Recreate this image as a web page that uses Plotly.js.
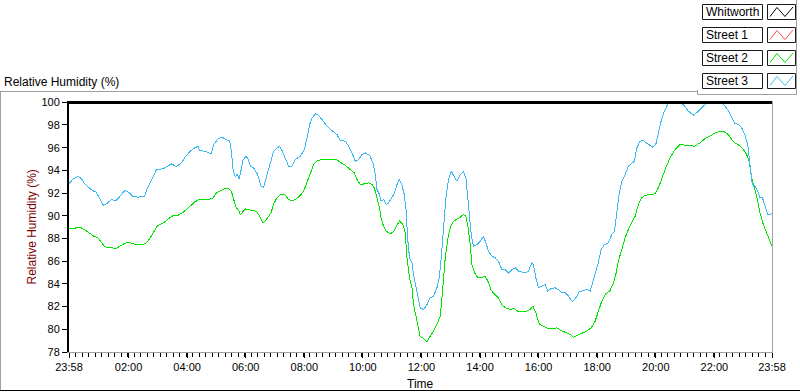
<!DOCTYPE html>
<html>
<head>
<meta charset="utf-8">
<script src="https://cdn.plot.ly/plotly-3.0.1.min.js"></script>
<style>
  html, body { margin: 0; padding: 0; background: #ffffff; }
  #chart { width: 800px; height: 392px; }
  .js-line { shape-rendering: crispEdges; }
</style>
</head>
<body>
<div id="chart"></div>
<script>
// ---- Data (hours since midnight; -0.033 = 23:58 of the previous day) ----
const seriesNames = ["Whitworth", "Street 1", "Street 2", "Street 3"];
const seriesColors = ["#000000", "#ff5050", "#00e400", "#3cb8f4"];

const whitworthTime = [-0.033, 23.967];
const whitworthRH = [100, 100];

const street1Time = [];
const street1RH = [];

const street2Time = [-0.033,0.110,0.280,0.393,0.540,0.676,0.813,0.963,1.075,1.188,1.338,1.474,1.587,1.700,1.836,1.986,2.133,2.269,2.440,2.587,2.703,2.839,2.976,3.122,3.269,3.405,3.542,3.692,3.839,3.975,4.112,4.258,4.408,4.565,4.715,4.862,4.998,5.135,5.282,5.432,5.510,5.589,5.681,5.773,5.817,5.909,5.998,6.216,6.363,6.476,6.592,6.728,6.865,6.953,7.069,7.182,7.328,7.465,7.581,7.694,7.840,7.977,8.093,8.205,8.318,8.454,8.604,8.775,8.946,9.092,9.229,9.399,9.570,9.706,9.798,9.911,10.048,10.194,10.310,10.389,10.481,10.569,10.617,10.685,10.798,10.934,11.047,11.139,11.252,11.368,11.446,11.504,11.593,11.675,11.729,11.821,11.900,11.958,12.071,12.187,12.299,12.412,12.528,12.640,12.719,12.811,12.903,12.981,13.094,13.210,13.323,13.435,13.517,13.585,13.664,13.722,13.810,13.926,14.039,14.175,14.267,14.380,14.517,14.629,14.745,14.882,15.028,15.175,15.311,15.448,15.598,15.711,15.803,15.905,16.017,16.164,16.314,16.471,16.621,16.768,16.929,17.075,17.188,17.338,17.474,17.645,17.792,17.928,18.041,18.157,18.293,18.440,18.552,18.634,18.723,18.839,18.952,19.064,19.180,19.293,19.405,19.521,19.634,19.805,19.975,20.088,20.204,20.341,20.487,20.658,20.828,20.999,21.169,21.340,21.510,21.681,21.851,22.022,22.192,22.339,22.475,22.592,22.704,22.841,22.987,23.103,23.182,23.274,23.363,23.444,23.557,23.670,23.786,23.864,23.967];
const street2RH = [88.85,88.85,89.00,88.93,88.70,88.41,88.20,88.05,87.61,87.26,87.23,87.17,87.11,87.32,87.53,87.68,87.53,87.44,87.44,87.56,87.91,88.49,89.08,89.29,89.52,89.82,90.05,90.05,90.26,90.55,90.85,91.22,91.43,91.43,91.43,91.49,92.02,92.22,92.37,92.37,92.16,91.43,90.70,90.40,90.08,90.37,90.61,90.46,90.40,89.96,89.37,89.75,90.26,91.05,91.58,91.87,91.87,91.43,91.29,91.43,91.73,92.16,92.90,93.63,94.51,94.86,94.95,94.98,94.98,94.95,94.72,94.45,94.07,93.78,93.19,92.75,92.81,92.90,92.75,92.46,91.58,90.70,89.82,89.23,88.64,88.41,88.58,89.08,89.52,89.23,88.49,86.29,84.53,83.65,82.18,81.00,80.13,79.35,79.19,78.90,79.40,79.84,80.42,81.16,83.36,86.29,88.05,88.93,89.52,89.67,89.88,90.11,89.96,89.08,87.46,85.70,84.97,84.53,84.53,84.68,84.24,83.42,83.06,82.77,82.13,81.89,81.74,81.83,81.54,81.54,81.60,81.74,82.04,81.45,80.48,80.28,80.07,80.07,80.13,79.89,79.69,79.54,79.31,79.49,79.69,79.84,80.13,80.70,81.60,82.48,83.12,83.42,84.09,84.82,86.00,87.17,88.05,88.78,89.37,89.96,90.99,91.58,91.81,91.87,91.93,92.46,93.34,94.22,95.10,95.83,96.27,96.21,96.18,96.13,96.42,96.80,97.01,97.30,97.45,97.39,97.15,96.71,96.42,96.21,95.83,95.39,94.81,93.34,92.46,91.73,90.26,89.23,88.49,87.90,87.32];

const street3Time = [-0.033,0.110,0.280,0.393,0.506,0.622,0.768,0.881,0.997,1.133,1.270,1.416,1.563,1.700,1.870,2.020,2.157,2.327,2.552,2.634,2.781,2.952,3.180,3.317,3.463,3.634,3.805,3.951,4.112,4.258,4.374,4.429,4.599,4.749,4.828,4.906,5.057,5.203,5.316,5.452,5.510,5.568,5.647,5.705,5.773,5.817,5.909,5.998,6.066,6.158,6.271,6.407,6.524,6.612,6.728,6.841,6.953,7.069,7.158,7.240,7.352,7.465,7.581,7.694,7.864,8.001,8.093,8.181,8.263,8.376,8.488,8.604,8.775,8.946,9.116,9.229,9.399,9.512,9.628,9.740,9.853,9.969,10.082,10.228,10.344,10.423,10.481,10.569,10.617,10.706,10.798,10.877,10.993,11.081,11.163,11.242,11.334,11.412,11.480,11.525,11.593,11.675,11.729,11.821,11.900,11.958,12.071,12.187,12.299,12.412,12.528,12.606,12.674,12.753,12.835,12.923,13.016,13.128,13.210,13.323,13.435,13.517,13.585,13.630,13.698,13.776,13.892,14.005,14.118,14.199,14.288,14.404,14.517,14.629,14.745,14.858,14.970,15.086,15.199,15.311,15.427,15.540,15.653,15.769,15.823,15.905,15.994,16.110,16.222,16.314,16.427,16.563,16.676,16.792,16.905,17.017,17.154,17.270,17.382,17.529,17.645,17.758,17.836,17.928,18.020,18.133,18.245,18.382,18.498,18.587,18.669,18.747,18.839,18.952,19.064,19.180,19.269,19.351,19.463,19.576,19.726,19.883,19.999,20.088,20.180,20.292,20.409,20.487,20.828,20.941,21.111,21.282,21.452,21.623,21.773,21.920,22.251,22.339,22.455,22.568,22.680,22.817,22.933,23.045,23.137,23.216,23.294,23.386,23.479,23.557,23.636,23.728,23.820,23.967];
const street3RH = [92.81,93.27,93.45,93.27,92.80,92.52,92.22,92.10,91.64,90.93,91.10,91.43,91.34,91.69,92.22,92.04,91.69,91.64,91.73,92.40,93.10,94.07,94.15,94.33,94.57,94.33,94.66,95.25,95.69,95.98,96.13,95.74,95.69,95.54,95.45,96.27,96.80,96.92,96.71,96.62,95.69,94.07,93.40,93.69,93.27,93.70,94.90,95.23,95.10,94.37,94.22,93.63,92.60,92.52,93.63,94.66,95.69,95.98,96.13,95.74,95.10,94.37,94.37,94.95,95.25,95.83,96.86,98.03,98.62,98.97,98.86,98.47,97.89,97.50,97.15,96.62,96.57,96.13,95.54,94.81,94.95,95.39,95.54,95.33,94.66,93.63,92.31,91.87,91.29,91.43,90.99,91.14,91.58,92.02,92.75,93.19,92.69,91.87,90.40,88.05,86.29,85.85,84.82,83.65,82.77,81.89,81.74,82.18,82.77,82.92,83.65,84.53,86.29,88.64,91.58,93.19,93.93,93.40,93.05,93.63,93.86,93.34,91.58,89.82,88.35,87.32,87.46,87.76,88.20,87.61,86.88,86.44,86.29,86.00,85.26,85.26,84.97,85.26,85.41,85.12,85.06,84.97,85.12,85.85,85.70,84.53,83.65,83.80,83.94,83.36,83.59,83.65,83.50,83.21,83.21,82.92,82.42,82.77,83.30,83.42,83.50,83.36,84.09,85.00,85.70,87.02,87.46,87.61,88.35,88.64,90.11,91.87,93.05,93.63,94.37,94.66,94.81,95.98,96.57,96.62,96.33,96.04,96.27,97.30,98.33,99.21,99.85,100,100,99.79,99.21,98.86,99.21,99.65,99.94,100,100,99.74,99.35,98.77,98.18,98.03,97.74,97.09,96.27,94.51,92.75,92.60,92.16,91.58,91.64,90.85,90.11,90.17];

const xTickVals = [-0.0333, 2, 4, 6, 8, 10, 12, 14, 16, 18, 20, 22, 23.9667];
const xTickText = ["23:58", "02:00", "04:00", "06:00", "08:00", "10:00", "12:00", "14:00", "16:00", "18:00", "20:00", "22:00", "23:58"];

// ---- Layout geometry ----
const W = 800, H = 392, ML = 69, MR = 28, MT = 101, MB = 40;
const PW = W - ML - MR, PH = H - MT - MB;
const px = x => (x - ML) / PW;
const py = y => (H - MB - y) / PH;
const FONT = "Liberation Sans, Arial, Helvetica, sans-serif";

const traces = [
  { name: seriesNames[1], x: street1Time, y: street1RH, mode: "lines", line: { color: seriesColors[1], width: 1 } },
  { name: seriesNames[2], x: street2Time, y: street2RH, mode: "lines", line: { color: seriesColors[2], width: 1 } },
  { name: seriesNames[3], x: street3Time, y: street3RH, mode: "lines", line: { color: seriesColors[3], width: 1 } },
  { name: seriesNames[0], x: whitworthTime, y: whitworthRH, mode: "lines", line: { color: seriesColors[0], width: 3 } }
];

const shapes = [];
const annotations = [];
const gray = "#a0a0a0";
function lineShape(x0, y0, x1, y1, color, width) {
  shapes.push({ type: "line", xref: "paper", yref: "paper", x0: px(x0), y0: py(y0), x1: px(x1), y1: py(y1),
    line: { color: color, width: width || 1 } });
}
// panel frame
lineShape(0, 91.5, 697.5, 91.5, gray);
lineShape(697.5, 90, 697.5, 94.5, gray);
lineShape(697.5, 94.5, 796.5, 94.5, gray);
lineShape(796.5, 0, 796.5, 94.5, gray);
lineShape(0.5, 91.5, 0.5, 391, gray);
lineShape(0, 390.5, 800, 390.5, "#000000");
// right border of plot area
lineShape(772.5, 101, 772.5, 353, gray);

// custom legend
const rowTops = [4.5, 27.5, 50.5, 73.5];
seriesNames.forEach((nm, i) => {
  const t = rowTops[i];
  shapes.push({ type: "rect", xref: "paper", yref: "paper", x0: px(702.5), x1: px(762.5), y0: py(t), y1: py(t + 15),
    line: { color: "#1a1a1a", width: 1 }, fillcolor: "#ffffff" });
  shapes.push({ type: "rect", xref: "paper", yref: "paper", x0: px(767.5), x1: px(795.5), y0: py(t), y1: py(t + 15),
    line: { color: "#1a1a1a", width: 1 }, fillcolor: "#ffffff" });
  const pts = [[770, t + 12], [777, t + 3], [785, t + 12], [793, t + 2.5]];
  const path = pts.map((p, k) => (k ? "L" : "M") + px(p[0]) + "," + py(p[1])).join(" ");
  shapes.push({ type: "path", xref: "paper", yref: "paper", path: path, line: { color: seriesColors[i], width: 1 } });
  annotations.push({ text: nm, xref: "paper", yref: "paper", x: px(704), y: py(t + 7.5), xanchor: "left", yanchor: "middle",
    showarrow: false, font: { family: FONT, size: 12, color: "#000000" } });
});

// titles
annotations.push({ text: "Relative Humidity (%)", xref: "paper", yref: "paper", x: px(2), y: py(82), xanchor: "left", yanchor: "middle",
  showarrow: false, font: { family: FONT, size: 12, color: "#000000" } });
annotations.push({ text: "Relative Humidity (%)", xref: "paper", yref: "paper", x: px(31.5), y: py(227), xanchor: "center", yanchor: "middle",
  textangle: -90, showarrow: false, font: { family: FONT, size: 12, color: "#7a0000" } });
annotations.push({ text: "Time", xref: "paper", yref: "paper", x: px(420), y: py(384.5), xanchor: "center", yanchor: "middle",
  showarrow: false, font: { family: FONT, size: 12, color: "#000000" } });

const layout = {
  width: W, height: H,
  margin: { l: ML, r: MR, t: MT, b: MB, pad: 0 },
  paper_bgcolor: "#ffffff", plot_bgcolor: "#ffffff",
  showlegend: false,
  font: { family: FONT, size: 11, color: "#000000" },
  xaxis: {
    range: [-0.0333, 23.9667], tickmode: "array", tickvals: xTickVals, ticktext: xTickText,
    showgrid: false, zeroline: false, showline: true, linecolor: gray, linewidth: 1,
    ticks: "outside", ticklen: 5, tickwidth: 1, tickcolor: "#000000",
    tickfont: { family: FONT, size: 11, color: "#000000" },
    minor: { tickmode: "linear", tick0: -0.0333, dtick: 2 / 9, ticks: "outside", ticklen: 4, tickwidth: 1, tickcolor: "#000000", showgrid: false },
    fixedrange: true
  },
  yaxis: {
    range: [78, 100.11], tick0: 78, dtick: 2,
    showgrid: false, zeroline: false, showline: true, linecolor: "#000000", linewidth: 2,
    ticks: "outside", ticklen: 5, tickwidth: 1, tickcolor: "#000000",
    tickfont: { family: FONT, size: 11, color: "#000000" },
    fixedrange: true
  },
  shapes: shapes,
  annotations: annotations,
  hovermode: false
};

Plotly.newPlot("chart", traces, layout, { displayModeBar: false, staticPlot: true });
</script>
</body>
</html>
